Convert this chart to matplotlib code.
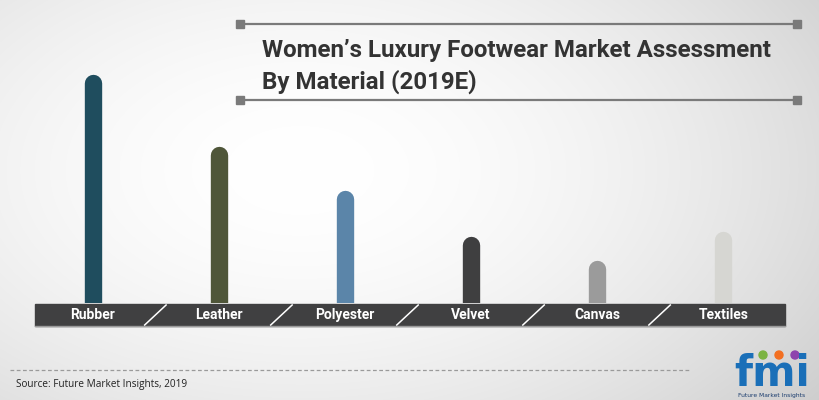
import numpy as np
import matplotlib
matplotlib.use('Agg')
import matplotlib.pyplot as plt
from matplotlib.patches import Rectangle, Circle

# data (arbitrary units, no axis shown)
materials = ['Rubber', 'Leather', 'Polyester', 'Velvet', 'Canvas', 'Textiles']
values = [220, 148, 104, 58, 34, 63]
colors = ['#1f4d5e', '#4f5639', '#5b85a9', '#3f3f40', '#9b9b9b', '#d6d6d2']

title_lines = ['Women\u2019s Luxury Footwear Market Assessment', 'By Material (2019E)']
source = 'Source: Future Market Insights, 2019'

narrow = ['Roboto', 'DejaVu Sans']

fig = plt.figure(figsize=(8.2, 4), dpi=100)

# background: soft radial gradient, pixel coordinates
bg = fig.add_axes([0, 0, 1, 1], zorder=0)
bg.set_xlim(0, 820)
bg.set_ylim(400, 0)
bg.axis('off')
yy, xx = np.mgrid[0:400, 0:820]
d = np.sqrt(((xx - 300) / 600.0) ** 2 + ((yy - 170) / 360.0) ** 2)
shade = 1.0 - 0.17 * np.clip(d, 0, 1.3) ** 1.8
bg.imshow(np.dstack([shade] * 3), extent=(0, 820, 400, 0), aspect='auto')

# title with bracket lines
for y in (24, 100):
    bg.plot([240, 797], [y, y], color='#7a7a7a', lw=1.6)
    bg.add_patch(Rectangle((236, y - 4), 8, 8, color='#7a7a7a'))
    bg.add_patch(Rectangle((793, y - 4), 8, 8, color='#7a7a7a'))
t1 = bg.text(262, 50, title_lines[0], family=narrow, weight='bold', fontsize=20,
             color='#333333', va='center', ha='left')
t2 = bg.text(262, 82, title_lines[1], family=narrow, weight='bold', fontsize=20,
             color='#333333', va='center', ha='left')
# fit first title line to the width it has in the reference (~508 px)
r = fig.canvas.get_renderer()
w = t1.get_window_extent(r).width
fs = 20 * 508.0 / w
t1.set_fontsize(fs)
t2.set_fontsize(fs)

# footer
bg.plot([10, 690], [370, 370], color='#9a9a9a', lw=0.9, ls=(0, (3, 2)))
bg.text(16, 385, source, fontsize=7.2, color='#222222', va='center',
        family=['Open Sans', 'DejaVu Sans'])

# fmi logo
bg.text(772, 386, 'fmi', family=['DejaVu Sans'], weight='bold', fontsize=30,
        color='#1a6fb8', ha='center', va='baseline')
for cx, c in zip([763, 779, 795], ['#7cb342', '#f36f21', '#8e44ad']):
    bg.add_patch(Circle((cx, 355), 4, color=c))
bg.text(772, 396, 'Future Market Insights', fontsize=4.3, color='#1a3c6e',
        ha='center', va='center')

# chart
ax = fig.add_axes([35 / 820, 1 - 303 / 400, 750 / 820, 263 / 400], zorder=2)
ax.patch.set_alpha(0)
ax.set_xlim(-0.46, len(materials) - 0.51)
ax.set_ylim(0, 263)
for i, (v, c) in enumerate(zip(values, colors)):
    ax.plot([i, i], [-10, v], color=c, lw=12.5, solid_capstyle='round', zorder=2)

# label band
ax.axhspan(-23, -1, color='#404041', clip_on=False, zorder=3)
ax.axhline(-23, color='#9a9a9a', lw=1, clip_on=False, zorder=3)
for b in np.arange(0.5, len(materials) - 0.5, 1):
    ax.plot([b - 0.09, b + 0.08], [-22, -2], color='white', lw=1.1,
            clip_on=False, zorder=4)
for i, m in enumerate(materials):
    ax.text(i, -12, m, family=narrow, weight='bold', fontsize=10, color='white',
            ha='center', va='center', zorder=5, clip_on=False)

ax.axis('off')

fig.savefig('out.png', dpi=100)
